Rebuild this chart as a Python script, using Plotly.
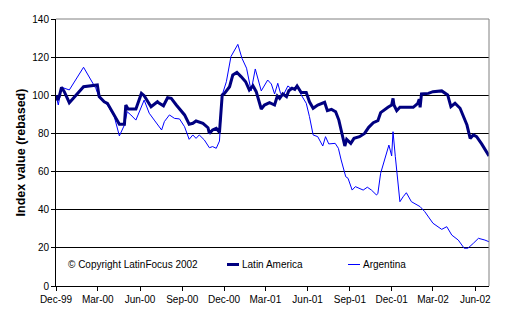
import plotly.graph_objects as go

# Latin America index (rebased)
la_dates = ["1999-12-01","1999-12-04","1999-12-08","1999-12-13","1999-12-19","1999-12-30",
    "2000-01-30","2000-02-26","2000-02-29","2000-03-04","2000-03-15","2000-03-22","2000-03-28",
    "2000-04-06","2000-04-17","2000-04-28","2000-05-01","2000-05-06","2000-05-23","2000-06-04",
    "2000-06-10","2000-06-25","2000-07-09","2000-07-13","2000-07-22","2000-07-31","2000-08-08",
    "2000-08-19","2000-08-30","2000-09-06","2000-09-16","2000-09-24","2000-10-01","2000-10-16",
    "2000-10-27","2000-10-30","2000-11-06","2000-11-14","2000-11-21","2000-11-27","2000-12-02",
    "2000-12-13","2000-12-20","2000-12-29","2001-01-07","2001-01-17","2001-01-25","2001-02-02",
    "2001-02-09","2001-02-20","2001-02-27","2001-03-10","2001-03-21","2001-03-27","2001-04-01",
    "2001-04-08","2001-04-16","2001-04-21","2001-04-28","2001-05-04","2001-05-09","2001-05-18",
    "2001-05-29","2001-06-05","2001-06-13","2001-06-23","2001-07-08","2001-07-14","2001-07-23",
    "2001-08-01","2001-08-08","2001-08-14","2001-08-21","2001-08-25","2001-09-03","2001-09-10",
    "2001-09-22","2001-10-03","2001-10-12","2001-10-22","2001-10-29","2001-11-01","2001-11-07",
    "2001-11-16","2001-11-23","2001-12-01","2001-12-04","2001-12-06","2001-12-12","2001-12-19",
    "2002-01-02","2002-01-17","2002-01-27","2002-01-30","2002-02-01","2002-02-04","2002-02-19",
    "2002-03-01","2002-03-20","2002-03-27","2002-04-02","2002-04-09","2002-04-18","2002-04-29",
    "2002-05-06","2002-05-14","2002-05-21","2002-05-28","2002-06-04","2002-06-15","2002-07-01"]
la_values = [100,97.5,99.3,104.2,101.9,96.1,
    104.5,105.2,105.4,99.3,96.6,95.8,93.2,
    89.7,84.8,84.8,94.9,92.8,92.8,101,
    99.8,94.0,96.6,95.8,94.5,98.7,98.4,
    94.9,91.8,89.7,84.8,85.3,86.5,85.3,
    83.0,80,81.8,82.7,80.6,100.2,101,
    104.5,110.6,112.0,109.8,107.1,102.8,105.0,
    101.9,92.8,94.9,96.1,94.9,99.6,98.4,
    100.7,99.3,102.4,103.7,103.1,104.9,101.4,
    101.4,96.6,93.2,94.9,96.3,91.9,92.6,
    91.4,87,80,73.4,76.9,74.8,77.4,
    78.3,80,83.2,85.6,86.2,86.7,90.9,
    92.6,93.7,94.9,98.4,94.9,91.9,93.7,
    93.7,93.7,95.8,97.9,93.7,100.7,101,
    101.9,102.3,101.4,100.2,94.0,95.8,93.2,
    88.8,84.4,77.4,79.2,78.3,74.5,68.2]

# Argentina index (rebased)
ar_dates = ["1999-12-01","1999-12-06","1999-12-13","1999-12-30","2000-01-30","2000-02-26",
    "2000-03-04","2000-03-22","2000-04-06","2000-04-17","2000-04-28","2000-05-04","2000-05-12",
    "2000-05-23","2000-06-10","2000-06-21","2000-07-02","2000-07-18","2000-07-24","2000-08-04",
    "2000-08-15","2000-08-26","2000-09-06","2000-09-16","2000-09-24","2000-10-01","2000-10-08",
    "2000-10-19","2000-10-30","2000-11-06","2000-11-14","2000-11-21","2000-11-27","2000-12-06",
    "2000-12-16","2000-12-24","2000-12-31","2001-01-09","2001-01-19","2001-01-29","2001-02-07",
    "2001-02-20","2001-03-03","2001-03-06","2001-03-14","2001-03-21","2001-03-28","2001-04-03",
    "2001-04-08","2001-04-19","2001-04-30","2001-05-09","2001-05-18","2001-05-29","2001-06-05",
    "2001-06-13","2001-06-23","2001-07-04","2001-07-10","2001-07-17","2001-07-31","2001-08-07",
    "2001-08-13","2001-08-20","2001-08-23","2001-08-28","2001-09-06","2001-09-13","2001-09-22",
    "2001-09-30","2001-10-09","2001-10-18","2001-10-29","2001-11-01","2001-11-07","2001-11-16",
    "2001-11-25","2001-12-01","2001-12-04","2001-12-09","2001-12-14","2001-12-19","2001-12-26",
    "2002-01-02","2002-01-13","2002-01-24","2002-02-01","2002-02-11","2002-03-01","2002-03-20",
    "2002-03-31","2002-04-11","2002-04-25","2002-05-08","2002-05-16","2002-05-28","2002-06-08",
    "2002-06-22","2002-07-01"]
ar_values = [100,94.9,104.2,102.8,114.7,103.5,
    98.8,94.9,88.8,78.7,84.4,91.4,89.7,
    87.0,97.5,90.6,87,81.8,86.2,89.7,
    87.9,87.6,83.5,76.9,79.2,77.4,79.2,
    76.6,72.5,73.1,72.2,76.0,100.2,107.1,
    120.3,123.8,126.7,119.4,114.2,102.3,113.8,
    102.3,106.8,108.0,105.9,100.7,106.3,101.0,
    99.6,104.9,102.8,105.4,100.2,95.8,88.8,
    79.2,78.3,73.4,78.3,74.5,74.8,72.2,
    66.1,60.8,57.3,56.5,50.3,52.1,51.2,
    50.3,51.8,50.3,47.7,48.6,59.1,66.1,
    73.9,68.2,80.9,67.8,57.3,44.2,46.8,
    48.9,44.2,42.5,41.6,39,32.9,29.7,
    31.1,26.7,24.1,19.8,19.8,22.4,25,
    24.1,23.2]

tick_dates = ["1999-12-01","2000-03-01","2000-06-01","2000-09-01","2000-12-01","2001-03-01",
              "2001-06-01","2001-09-01","2001-12-01","2002-03-01","2002-06-01"]
tick_labels = ["Dec-99","Mar-00","Jun-00","Sep-00","Dec-00","Mar-01",
               "Jun-01","Sep-01","Dec-01","Mar-02","Jun-02"]
y_ticks = [0, 20, 40, 60, 80, 100, 120, 140]

FONT = "Liberation Sans, Arial, sans-serif"

fig = go.Figure()
fig.add_trace(go.Scatter(x=ar_dates, y=ar_values, mode="lines", name="Argentina",
                         line=dict(color="#0000FF", width=1)))
fig.add_trace(go.Scatter(x=la_dates, y=la_values, mode="lines", name="Latin America",
                         line=dict(color="#000080", width=3)))

fig.update_layout(
    width=525, height=326,
    margin=dict(l=56, r=36, t=19, b=40),
    paper_bgcolor="white", plot_bgcolor="white",
    showlegend=False,
    font=dict(family=FONT, size=10, color="black"),
    xaxis=dict(type="date", range=["1999-12-01", "2002-07-01"],
               tickvals=tick_dates, ticktext=tick_labels,
               showgrid=False, zeroline=False,
               showline=True, linecolor="black", linewidth=1,
               ticks="outside", ticklen=4, tickcolor="black",
               tickfont=dict(family=FONT, size=10, color="black")),
    yaxis=dict(range=[0, 140], tickvals=y_ticks,
               showgrid=True, gridcolor="black", gridwidth=1, zeroline=False,
               showline=True, linecolor="black", linewidth=1,
               ticks="outside", ticklen=4, tickcolor="black",
               tickfont=dict(family=FONT, size=10, color="black"),
               title=dict(text="<b>Index value (rebased)</b>",
                          font=dict(family=FONT, size=12.5, color="black"), standoff=3)),
)

# gray plot-area border on top and right
fig.add_shape(type="line", xref="paper", yref="paper", x0=0, x1=1, y0=1, y1=1,
              line=dict(color="#808080", width=1), layer="above")
fig.add_shape(type="line", xref="paper", yref="paper", x0=1, x1=1, y0=0, y1=1,
              line=dict(color="#808080", width=1), layer="above")

# legend drawn inside the plot area
fig.add_annotation(xref="paper", yref="paper", x=(66 - 56) / 433, y=(286 - 264.5) / 267,
                   xanchor="left", yanchor="middle", showarrow=False,
                   text="© Copyright LatinFocus 2002",
                   font=dict(family=FONT, size=10, color="black"))
fig.add_shape(type="line", xref="paper", yref="paper",
              x0=(227 - 56) / 433, x1=(239 - 56) / 433,
              y0=(286 - 264.5) / 267, y1=(286 - 264.5) / 267,
              line=dict(color="#000080", width=3))
fig.add_annotation(xref="paper", yref="paper", x=(239.5 - 56) / 433, y=(286 - 264.5) / 267,
                   xanchor="left", yanchor="middle", showarrow=False,
                   text="Latin America", font=dict(family=FONT, size=10, color="black"))
fig.add_shape(type="line", xref="paper", yref="paper",
              x0=(348 - 56) / 433, x1=(360 - 56) / 433,
              y0=(286 - 264.5) / 267, y1=(286 - 264.5) / 267,
              line=dict(color="#0000FF", width=1))
fig.add_annotation(xref="paper", yref="paper", x=(361 - 56) / 433, y=(286 - 264.5) / 267,
                   xanchor="left", yanchor="middle", showarrow=False,
                   text="Argentina", font=dict(family=FONT, size=10, color="black"))

fig.write_html("out.html")
